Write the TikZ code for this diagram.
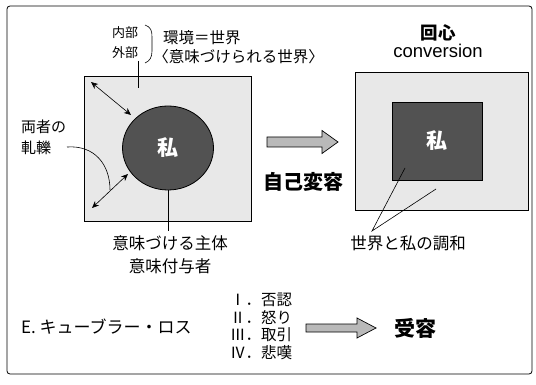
\documentclass[tikz,border=0pt]{standalone}
\usepackage{fontspec}
\setmainfont{Noto Sans CJK JP}
\newfontfamily\latinsans{Liberation Sans}
\newfontfamily\jphalt[RawFeature=+halt]{Noto Sans CJK JP}
\usetikzlibrary{arrows.meta,shapes.geometric}
\newcommand{\fs}[1]{\fontsize{#1}{#1}\selectfont}
\begin{document}
\begin{tikzpicture}[x=1pt,y=-1pt,
  txt/.style={inner sep=0pt, outer sep=0pt, text=black},
  world/.style={draw=black, line width=0.8pt, fill=gray!18},
  self/.style={draw=black, line width=0.8pt, fill=black!68, text=white, font=\fs{21}\bfseries},
  conn/.style={draw=black, line width=0.6pt},
  dbl/.style={conn, {Stealth[length=7pt,width=6pt]}-{Stealth[length=7pt,width=6pt]}},
  bigarrow/.style={draw=black, line width=0.7pt, fill=gray!55}]
\useasboundingbox (0,0) rectangle (536,385);
% frame
\draw[line width=0.8pt, rounded corners=3pt] (7,6) rectangle (532,374);

% ---- left picture
\node[world, minimum width=167pt, minimum height=145pt, inner sep=0pt] (lbox) at (167.5,148.5) {};
\node[self, ellipse, minimum width=91pt, minimum height=84pt, inner sep=0pt] (me1) at (168,148) {私};

\node[txt, font=\fs{13}] (naibu) at (125,33) {内部};
\node[txt, font=\fs{13}] (gaibu) at (125,53) {外部};
\draw[conn] (145,25) .. controls (151,27) and (152,31) .. (152,37) -- (152,51) .. controls (152,57) and (150,61) .. (145,63);
\coordinate (wpt) at (138,88);
\draw[conn] (138,61) -- (wpt);

\node[txt, anchor=west, font=\fs{15.5}] (kankyo) at (163,38) {環境＝世界};
\node[txt, anchor=west, font=\fs{15.5}] (imizuke) at (161,57) {{\jphalt 〈}意味づけられる世界{\jphalt 〉}};

\coordinate (a1s) at (91,82);
\coordinate (a1e) at (131,115);
\draw[dbl] (a1s) -- (a1e);
\coordinate (a2s) at (92,208);
\coordinate (a2e) at (128,174);
\draw[dbl] (a2s) -- (a2e);

\node[txt, anchor=west, font=\fs{15}] (ryosha) at (21,127) {両者の};
\node[txt, anchor=west, font=\fs{15}] (atsureki) at (21,148) {軋轢};
\coordinate (cv) at (110,190);
\draw[conn] (67,147) .. controls (95,145) and (110,165) .. (cv);

\coordinate (sub) at (168,231);
\draw[conn] (me1.south) -- (sub);
\node[txt, font=\fs{16.5}] (shutai) at (170,243) {意味づける主体};
\node[txt, font=\fs{16.5}] (fuyo) at (170,266) {意味付与者};

% ---- middle arrow
\draw[bigarrow] (267,137) -- (322,137) -- (322,130.5) -- (338,142) -- (322,153.5) -- (322,147) -- (267,147) -- cycle;
\node[txt, font=\fs{20}\bfseries] (henyo) at (303,182) {自己変容};

% ---- right picture
\node[txt, font=\fs{17.5}\bfseries] (kaishin) at (438,33) {回心};
\node[txt, font=\latinsans\fs{18.5}] (conv) at (438,51) {conversion};
\node[world, minimum width=173pt, minimum height=138pt, inner sep=0pt] (rbox) at (441.5,141) {};
\node[self, rectangle, minimum width=90pt, minimum height=78pt, inner sep=0pt] (me2) at (437,141) {私};
\coordinate (apex) at (372,231);
\coordinate (h1) at (405,168);
\coordinate (h2) at (436,189);
\draw[conn] (h1) -- (apex) -- (h2);
\node[txt, font=\fs{16.5}] (chowa) at (408,243) {世界と私の調和};

% ---- bottom row
\node[txt, anchor=west, font=\fs{17}] (kubler) at (21,327) {E. キューブラー・ロス};
\node[txt, anchor=west, font=\fs{15.5}] (s1) at (230,300) {Ⅰ．否認};
\node[txt, anchor=west, font=\fs{15.5}] (s2) at (230,317.5) {Ⅱ．怒り};
\node[txt, anchor=west, font=\fs{15.5}] (s3) at (230,335) {Ⅲ．取引};
\node[txt, anchor=west, font=\fs{15.5}] (s4) at (230,352.5) {Ⅳ．悲嘆};
\draw[bigarrow] (306,324) -- (357,324) -- (357,318) -- (376,328) -- (357,338) -- (357,332) -- (306,332) -- cycle;
\node[txt, font=\fs{21}\bfseries] (juyo) at (415,328) {受容};
\end{tikzpicture}
\end{document}
